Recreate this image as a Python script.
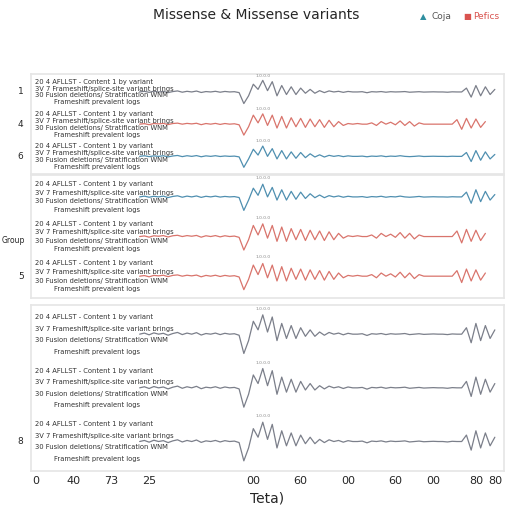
import numpy as np, pandas as pd, seaborn as sns, matplotlib.pyplot as plt

x_pos = list(range(23, 99))
gray_wave = [0,0.05,-0.03,0.06,0,0.04,-0.05,0.03,0.08,-0.02,0.05,0,0.07,-0.04,0.03,0,0.05,-0.02,0.04,0,0.02,-0.05,
             -0.9,-0.3,0.6,0.2,0.9,0.1,0.8,-0.3,0.5,-0.2,0.4,-0.2,0.3,-0.1,0.2,-0.1,
             0.1,-0.05,0.08,0,0.05,-0.03,0.04,0,0,0.02,-0.06,0.02,0,0.03,-0.02,0.02,0,0.01,0.03,-0.02,0,0.02,-0.01,0,0.01,0,0,-0.02,0.01,0,0,
             0.3,-0.4,0.5,-0.3,0.4,-0.2,0.2]
red_wave = [0,0.04,-0.04,0.05,0.02,0.06,-0.03,0.05,0.08,0,0.06,0.02,0.07,-0.04,0.05,0,0.06,-0.02,0.05,0,0.03,-0.05,
            -0.85,-0.2,0.7,0.1,0.8,-0.1,0.7,-0.3,0.6,-0.3,0.5,-0.2,0.45,-0.25,0.4,-0.2,
            0.35,-0.25,0.3,-0.2,0.2,-0.1,0.05,0,0.05,0,0,0.1,-0.1,0.2,0,0.15,-0.05,0.25,-0.1,0.2,-0.15,0.1,0,0,0,0,0,0,0,
            0.35,-0.4,0.45,-0.3,0.4,-0.25,0.2]
blue_wave = [0,0.05,-0.02,0.04,0,0.05,-0.04,0.03,0.07,-0.02,0.05,0,0.06,-0.03,0.04,0,0.05,-0.01,0.03,0,0.02,-0.04,
             -0.85,-0.2,0.55,0.1,0.8,0,0.6,-0.2,0.45,-0.2,0.35,-0.15,0.3,-0.1,0.2,-0.05,
             0.12,-0.05,0.08,0,0.06,-0.02,0.04,0,0,0.02,-0.03,0.02,0,0.04,-0.02,0.02,0,0.05,0,-0.02,0,0.03,-0.01,0,0.01,0,0,-0.01,0.01,0,0,
             0.3,-0.4,0.45,-0.3,0.35,-0.2,0.15]

panel_waves = [["gray", "red", "blue"], ["blue", "red", "red"], ["gray", "gray", "gray"]]
panel_ylabels = [["1", "4", "6"], ["", "", "5"], ["", "", "8"]]
text_lines = ["20 4 AFLLST - Content 1 by variant",
              "3V 7 Frameshift/splice-site variant brings",
              "30 Fusion deletions/ Stratification WNM",
              "Frameshift prevalent logs"]
x_ticks = [1, 9, 17, 25, 40, 47, 57, 67, 77, 85, 94, 98]
x_ticklabels = ["0", "40", "73", "25", "", "00", "60", "00", "60", "00", "80", "80"]

colors = {"gray": "#7b7f8a", "red": "#d9746c", "blue": "#4f8fb0"}
waves = {"gray": gray_wave, "red": red_wave, "blue": blue_wave}

sns.set_theme(style="white")
plt.rcParams['font.family'] = ['DejaVu Sans']
fig = plt.figure(figsize=(5.12, 5.12), dpi=100)
tops = [0.855, 0.658, 0.405]
heights = [0.195, 0.24, 0.325]
for p in range(3):
    ax = fig.add_axes([0.06, tops[p] - heights[p], 0.925, heights[p]])
    rows = []
    for k, name in enumerate(panel_waves[p]):
        off = 2 - k
        for xv, yv in zip(x_pos, waves[name]):
            rows.append({"x": xv, "y": yv * 0.4 + off, "t": f"{k}"})
    df = pd.DataFrame(rows)
    pal = {f"{k}": colors[n] for k, n in enumerate(panel_waves[p])}
    sns.lineplot(data=df, x="x", y="y", hue="t", palette=pal, ax=ax, lw=0.9, legend=False)
    for k in range(3):
        off = 2 - k
        for j, line in enumerate(text_lines):
            ax.text(1 + (4 if j == 3 else 0), off + 0.32 - j * 0.215, line, fontsize=4.9, color="#333", va="center")
        ax.text(49, off + 0.45, "1.0.0.0", fontsize=3.2, color="#888", ha="center")
        ax.text(-1.5, off, panel_ylabels[p][k], fontsize=6.5, ha="right", va="center")
    ax.set_xlim(0, 100)
    ax.set_ylim(-0.55, 2.55)
    ax.set_yticks([])
    ax.set_xlabel(""); ax.set_ylabel("")
    for s in ax.spines.values():
        s.set_color("#e6e6e6")
    if p < 2:
        ax.set_xticks([])
    else:
        ax.set_xticks(x_ticks)
        ax.set_xticklabels(x_ticklabels, fontsize=8)
        ax.tick_params(length=0)
        ax.set_xlabel("Teta)", fontsize=10)
fig.text(0.5, 0.963, "Missense & Missense variants", ha="center", fontsize=10)
fig.text(0.82, 0.963, "▲", color="#2f8fa0", fontsize=6)
fig.text(0.842, 0.963, "Coja", color="#555", fontsize=6.5)
fig.text(0.905, 0.963, "■", color="#d9534f", fontsize=6)
fig.text(0.925, 0.963, "Pefics", color="#d9534f", fontsize=6.5)
fig.text(0.003, 0.53, "Group", rotation=0, fontsize=5.5, va="center")
fig.savefig("out.png", dpi=100)
